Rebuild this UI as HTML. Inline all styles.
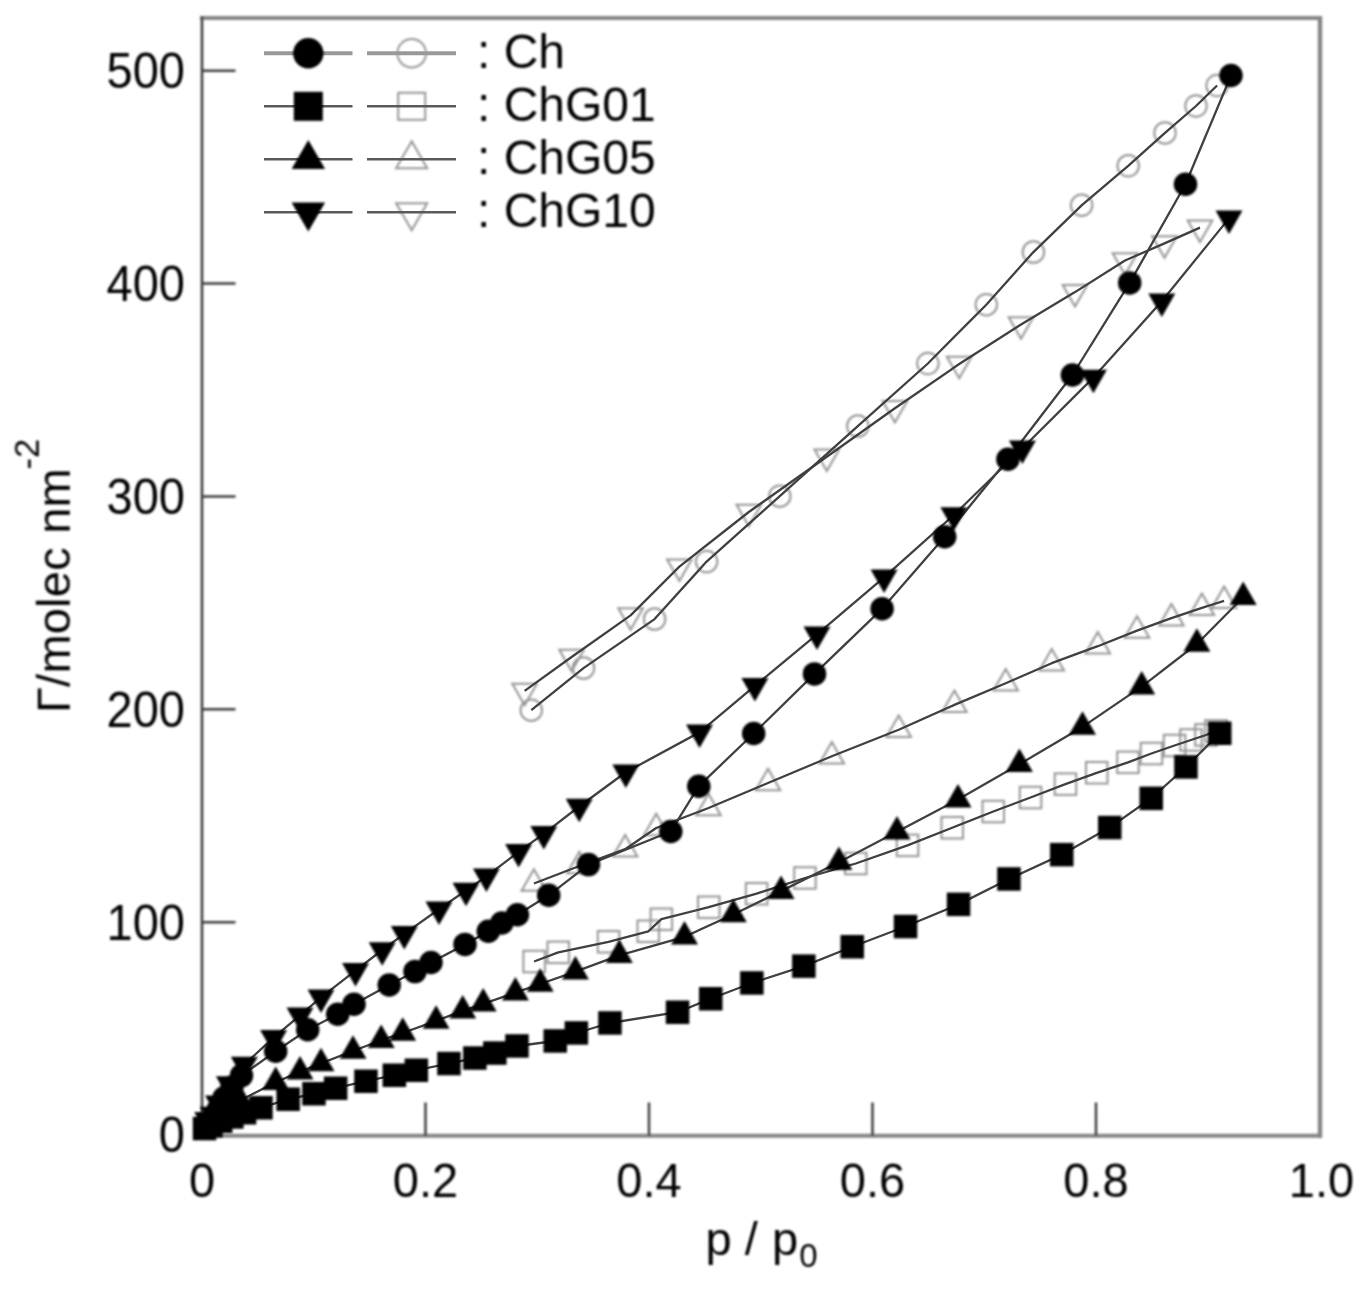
<!DOCTYPE html><html><head><meta charset="utf-8"><style>html,body{margin:0;padding:0;background:#fff;}body{width:1368px;height:1292px;overflow:hidden;}svg{display:block;}text{font-family:"Liberation Sans",sans-serif;fill:#000;}</style></head><body>
<svg width="1368" height="1292" viewBox="0 0 1368 1292">
<rect width="1368" height="1292" fill="#fff"/>
<defs><filter id="b" x="0" y="0" width="1368" height="1292" filterUnits="userSpaceOnUse"><feGaussianBlur stdDeviation="1.0"/></filter></defs>
<g filter="url(#b)">
<line x1="200" y1="18" x2="1322" y2="18" stroke="#858585" stroke-width="4.0"/>
<line x1="1320" y1="16" x2="1320" y2="1138" stroke="#858585" stroke-width="4.4"/>
<line x1="200" y1="1135.8" x2="1322" y2="1135.8" stroke="#858585" stroke-width="4.0"/>
<line x1="202" y1="16.5" x2="202" y2="1137" stroke="#3c3c3c" stroke-width="2.6"/>
<text transform="translate(185,1152.3) scale(1,1.045)" font-size="47" text-anchor="end">0</text>
<line x1="202.0" y1="922.2" x2="235.5" y2="922.2" stroke="#3c3c3c" stroke-width="2.5"/>
<text transform="translate(185,939.5) scale(1,1.045)" font-size="47" text-anchor="end">100</text>
<line x1="202.0" y1="709.3" x2="235.5" y2="709.3" stroke="#3c3c3c" stroke-width="2.5"/>
<text transform="translate(185,726.6) scale(1,1.045)" font-size="47" text-anchor="end">200</text>
<line x1="202.0" y1="496.5" x2="235.5" y2="496.5" stroke="#3c3c3c" stroke-width="2.5"/>
<text transform="translate(185,513.8) scale(1,1.045)" font-size="47" text-anchor="end">300</text>
<line x1="202.0" y1="283.6" x2="235.5" y2="283.6" stroke="#3c3c3c" stroke-width="2.5"/>
<text transform="translate(185,300.9) scale(1,1.045)" font-size="47" text-anchor="end">400</text>
<line x1="202.0" y1="70.8" x2="235.5" y2="70.8" stroke="#3c3c3c" stroke-width="2.5"/>
<text transform="translate(185,88.1) scale(1,1.045)" font-size="47" text-anchor="end">500</text>
<text transform="translate(202.0,1197) scale(1,1.03)" font-size="47" text-anchor="middle">0</text>
<line x1="425.5" y1="1135.8" x2="425.5" y2="1102.5" stroke="#3c3c3c" stroke-width="2.5"/>
<text transform="translate(425.5,1197) scale(1,1.03)" font-size="47" text-anchor="middle">0.2</text>
<line x1="649.0" y1="1135.8" x2="649.0" y2="1102.5" stroke="#3c3c3c" stroke-width="2.5"/>
<text transform="translate(649.0,1197) scale(1,1.03)" font-size="47" text-anchor="middle">0.4</text>
<line x1="872.5" y1="1135.8" x2="872.5" y2="1102.5" stroke="#3c3c3c" stroke-width="2.5"/>
<text transform="translate(872.5,1197) scale(1,1.03)" font-size="47" text-anchor="middle">0.6</text>
<line x1="1096.0" y1="1135.8" x2="1096.0" y2="1102.5" stroke="#3c3c3c" stroke-width="2.5"/>
<text transform="translate(1096.0,1197) scale(1,1.03)" font-size="47" text-anchor="middle">0.8</text>
<text transform="translate(1321.5,1197) scale(1,1.03)" font-size="47" text-anchor="middle">1.0</text>
<text x="705.5" y="1255" font-size="47">p /<tspan dx="1.2"> p</tspan><tspan font-size="33" dx="1" dy="11.5">0</tspan></text>
<text transform="translate(69.8,713) rotate(-90)" font-size="47" letter-spacing="0.22">&#915;/molec nm<tspan font-size="34.5" dx="-1.3" dy="-31.5" letter-spacing="0">-2</tspan></text>
</g>
<g filter="url(#b)">
<circle cx="531.3" cy="710.2" r="10.75" fill="none" stroke="#959595" stroke-width="2.0"/>
<circle cx="583.5" cy="668.1" r="10.75" fill="none" stroke="#959595" stroke-width="2.0"/>
<circle cx="654.6" cy="619.1" r="10.75" fill="none" stroke="#959595" stroke-width="2.0"/>
<circle cx="706.6" cy="561.6" r="10.75" fill="none" stroke="#959595" stroke-width="2.0"/>
<circle cx="779.8" cy="496.2" r="10.75" fill="none" stroke="#959595" stroke-width="2.0"/>
<circle cx="857.8" cy="426.1" r="10.75" fill="none" stroke="#959595" stroke-width="2.0"/>
<circle cx="927.9" cy="363.5" r="10.75" fill="none" stroke="#959595" stroke-width="2.0"/>
<circle cx="986.3" cy="304.7" r="10.75" fill="none" stroke="#959595" stroke-width="2.0"/>
<circle cx="1033.4" cy="252.1" r="10.75" fill="none" stroke="#959595" stroke-width="2.0"/>
<circle cx="1081.6" cy="205.3" r="10.75" fill="none" stroke="#959595" stroke-width="2.0"/>
<circle cx="1128.2" cy="165.8" r="10.75" fill="none" stroke="#959595" stroke-width="2.0"/>
<circle cx="1165.0" cy="132.9" r="10.75" fill="none" stroke="#959595" stroke-width="2.0"/>
<circle cx="1196.0" cy="106.0" r="10.75" fill="none" stroke="#959595" stroke-width="2.0"/>
<circle cx="1217.1" cy="85.5" r="10.75" fill="none" stroke="#959595" stroke-width="2.0"/>
<rect x="523.4" y="950.8" width="21.5" height="21.5" fill="none" stroke="#959595" stroke-width="2.0"/>
<rect x="547.5" y="941.6" width="21.5" height="21.5" fill="none" stroke="#959595" stroke-width="2.0"/>
<rect x="597.8" y="931.0" width="21.5" height="21.5" fill="none" stroke="#959595" stroke-width="2.0"/>
<rect x="637.5" y="920.5" width="21.5" height="21.5" fill="none" stroke="#959595" stroke-width="2.0"/>
<rect x="650.6" y="908.5" width="21.5" height="21.5" fill="none" stroke="#959595" stroke-width="2.0"/>
<rect x="698.0" y="896.5" width="21.5" height="21.5" fill="none" stroke="#959595" stroke-width="2.0"/>
<rect x="745.9" y="883.0" width="21.5" height="21.5" fill="none" stroke="#959595" stroke-width="2.0"/>
<rect x="794.2" y="867.2" width="21.5" height="21.5" fill="none" stroke="#959595" stroke-width="2.0"/>
<rect x="845.0" y="852.8" width="21.5" height="21.5" fill="none" stroke="#959595" stroke-width="2.0"/>
<rect x="896.8" y="834.6" width="21.5" height="21.5" fill="none" stroke="#959595" stroke-width="2.0"/>
<rect x="941.5" y="817.0" width="21.5" height="21.5" fill="none" stroke="#959595" stroke-width="2.0"/>
<rect x="982.5" y="800.8" width="21.5" height="21.5" fill="none" stroke="#959595" stroke-width="2.0"/>
<rect x="1019.8" y="786.8" width="21.5" height="21.5" fill="none" stroke="#959595" stroke-width="2.0"/>
<rect x="1054.7" y="773.4" width="21.5" height="21.5" fill="none" stroke="#959595" stroke-width="2.0"/>
<rect x="1086.0" y="762.0" width="21.5" height="21.5" fill="none" stroke="#959595" stroke-width="2.0"/>
<rect x="1117.2" y="751.6" width="21.5" height="21.5" fill="none" stroke="#959595" stroke-width="2.0"/>
<rect x="1140.7" y="742.8" width="21.5" height="21.5" fill="none" stroke="#959595" stroke-width="2.0"/>
<rect x="1163.8" y="734.8" width="21.5" height="21.5" fill="none" stroke="#959595" stroke-width="2.0"/>
<rect x="1180.2" y="729.2" width="21.5" height="21.5" fill="none" stroke="#959595" stroke-width="2.0"/>
<rect x="1195.2" y="724.2" width="21.5" height="21.5" fill="none" stroke="#959595" stroke-width="2.0"/>
<rect x="1205.2" y="720.2" width="21.5" height="21.5" fill="none" stroke="#959595" stroke-width="2.0"/>
<polygon points="533.9,869.2 546.2,890.7 521.6,890.7" fill="none" stroke="#959595" stroke-width="2.0"/>
<polygon points="579.4,851.7 591.7,873.2 567.1,873.2" fill="none" stroke="#959595" stroke-width="2.0"/>
<polygon points="625.1,834.9 637.4,856.4 612.8,856.4" fill="none" stroke="#959595" stroke-width="2.0"/>
<polygon points="656.2,813.7 668.5,835.2 643.9,835.2" fill="none" stroke="#959595" stroke-width="2.0"/>
<polygon points="708.5,793.7 720.8,815.2 696.2,815.2" fill="none" stroke="#959595" stroke-width="2.0"/>
<polygon points="768.0,768.7 780.3,790.2 755.7,790.2" fill="none" stroke="#959595" stroke-width="2.0"/>
<polygon points="831.8,741.9 844.1,763.4 819.5,763.4" fill="none" stroke="#959595" stroke-width="2.0"/>
<polygon points="898.7,715.4 911.0,736.9 886.4,736.9" fill="none" stroke="#959595" stroke-width="2.0"/>
<polygon points="954.4,690.6 966.7,712.1 942.1,712.1" fill="none" stroke="#959595" stroke-width="2.0"/>
<polygon points="1005.7,668.9 1018.0,690.4 993.4,690.4" fill="none" stroke="#959595" stroke-width="2.0"/>
<polygon points="1051.7,648.9 1064.0,670.4 1039.4,670.4" fill="none" stroke="#959595" stroke-width="2.0"/>
<polygon points="1097.8,631.9 1110.1,653.4 1085.5,653.4" fill="none" stroke="#959595" stroke-width="2.0"/>
<polygon points="1137.0,616.3 1149.3,637.8 1124.7,637.8" fill="none" stroke="#959595" stroke-width="2.0"/>
<polygon points="1171.4,603.9 1183.7,625.4 1159.1,625.4" fill="none" stroke="#959595" stroke-width="2.0"/>
<polygon points="1201.9,593.5 1214.2,615.0 1189.6,615.0" fill="none" stroke="#959595" stroke-width="2.0"/>
<polygon points="1224.1,586.6 1236.4,608.1 1211.8,608.1" fill="none" stroke="#959595" stroke-width="2.0"/>
<polygon points="524.6,705.2 536.9,683.7 512.3,683.7" fill="none" stroke="#959595" stroke-width="2.0"/>
<polygon points="571.6,671.3 583.9,649.8 559.3,649.8" fill="none" stroke="#959595" stroke-width="2.0"/>
<polygon points="630.6,629.7 642.9,608.2 618.3,608.2" fill="none" stroke="#959595" stroke-width="2.0"/>
<polygon points="679.4,580.9 691.7,559.4 667.1,559.4" fill="none" stroke="#959595" stroke-width="2.0"/>
<polygon points="748.8,526.3 761.1,504.8 736.5,504.8" fill="none" stroke="#959595" stroke-width="2.0"/>
<polygon points="826.8,471.1 839.1,449.6 814.5,449.6" fill="none" stroke="#959595" stroke-width="2.0"/>
<polygon points="894.9,422.6 907.2,401.1 882.6,401.1" fill="none" stroke="#959595" stroke-width="2.0"/>
<polygon points="959.2,378.3 971.5,356.8 946.9,356.8" fill="none" stroke="#959595" stroke-width="2.0"/>
<polygon points="1021.0,338.8 1033.3,317.3 1008.7,317.3" fill="none" stroke="#959595" stroke-width="2.0"/>
<polygon points="1075.0,306.4 1087.3,284.9 1062.7,284.9" fill="none" stroke="#959595" stroke-width="2.0"/>
<polygon points="1125.0,274.8 1137.3,253.3 1112.7,253.3" fill="none" stroke="#959595" stroke-width="2.0"/>
<polygon points="1164.5,257.7 1176.8,236.2 1152.2,236.2" fill="none" stroke="#959595" stroke-width="2.0"/>
<polygon points="1200.0,241.9 1212.3,220.4 1187.7,220.4" fill="none" stroke="#959595" stroke-width="2.0"/>
</g>
<polyline points="208.0,1127.0 213.0,1119.0 218.0,1110.0 224.0,1098.0 232.0,1087.0 241.5,1075.6 275.7,1051.3 307.7,1029.7 337.7,1014.3 354.0,1004.2 389.2,985.0 415.0,971.6 431.0,962.5 465.0,944.4 488.3,931.3 501.8,923.0 517.4,914.7 548.7,895.3 588.5,864.6 670.8,831.5 698.8,786.2 753.7,733.5 814.5,673.9 882.1,608.8 944.7,536.8 1007.9,459.2 1072.4,375.0 1129.7,282.9 1185.5,184.2 1231.0,75.5" fill="none" stroke="#404040" stroke-width="2.3" stroke-linejoin="round"/>
<polyline points="531.3,710.2 583.5,668.1 654.6,619.1 706.6,561.6 779.8,496.2 857.8,426.1 927.9,363.5 986.3,304.7 1033.4,252.1 1081.6,205.3 1128.2,165.8 1165.0,132.9 1196.0,106.0 1217.1,85.5" fill="none" stroke="#404040" stroke-width="2.3" stroke-linejoin="round"/>
<polyline points="204.5,1128.5 211.0,1125.5 220.7,1121.2 231.8,1117.0 244.6,1112.7 261.0,1107.7 288.2,1099.3 314.0,1093.7 335.6,1088.2 366.0,1081.2 394.3,1075.2 416.4,1070.2 449.0,1063.5 474.8,1058.1 494.9,1053.1 517.0,1046.0 555.3,1041.0 576.4,1033.0 610.0,1023.0 677.5,1012.2 710.7,998.7 751.9,983.0 803.9,966.1 852.3,946.8 905.5,926.5 958.5,904.4 1009.0,879.0 1061.8,854.6 1109.7,827.5 1151.2,798.4 1185.9,767.0 1219.8,733.3" fill="none" stroke="#404040" stroke-width="2.3" stroke-linejoin="round"/>
<polyline points="534.1,961.5 558.3,952.4 608.5,941.8 648.3,931.3 661.4,919.2 708.7,907.2 756.6,893.7 805.0,878.0 855.8,863.5 907.5,845.4 952.2,827.7 993.3,811.5 1030.5,797.5 1065.4,784.1 1096.7,772.8 1128.0,762.4 1151.4,753.5 1174.5,745.5 1191.0,740.0 1206.0,735.0 1216.0,731.0" fill="none" stroke="#404040" stroke-width="2.3" stroke-linejoin="round"/>
<polyline points="206.0,1126.0 210.0,1121.0 217.0,1115.0 228.0,1107.5 240.0,1100.5 275.7,1082.2 300.0,1071.7 321.0,1063.4 353.0,1051.0 381.2,1040.2 402.7,1033.0 436.1,1020.9 462.7,1010.8 483.2,1003.8 515.4,992.7 540.2,984.0 575.4,971.6 619.3,955.3 684.5,936.8 733.3,914.5 781.1,891.1 838.9,862.3 897.0,831.8 958.0,799.6 1019.4,764.3 1082.5,726.9 1141.7,686.6 1196.9,644.0 1243.2,597.2" fill="none" stroke="#404040" stroke-width="2.3" stroke-linejoin="round"/>
<polyline points="533.9,883.5 579.4,866.0 625.1,849.2 656.2,828.0 708.5,808.0 768.0,783.0 831.8,756.2 898.7,729.7 954.4,704.9 1005.7,683.2 1051.7,663.2 1097.8,646.2 1137.0,630.6 1171.4,618.2 1201.9,607.8 1224.1,600.9" fill="none" stroke="#404040" stroke-width="2.3" stroke-linejoin="round"/>
<polyline points="207.7,1119.8 213.5,1114.5 218.5,1103.3 229.4,1084.0 244.3,1064.5 273.6,1037.7 300.0,1015.4 321.0,997.3 355.5,970.7 382.2,950.0 404.3,933.9 439.0,909.2 466.0,890.5 486.4,876.4 518.6,851.9 543.8,833.8 579.2,806.5 625.8,772.2 699.5,732.3 754.9,685.9 817.0,634.3 884.1,577.3 953.9,515.0 1022.4,448.2 1093.4,377.6 1161.8,301.3 1229.0,218.4" fill="none" stroke="#404040" stroke-width="2.3" stroke-linejoin="round"/>
<polyline points="524.6,690.9 571.6,657.0 630.6,615.4 679.4,566.6 748.8,512.0 826.8,456.8 894.9,408.3 959.2,364.0 1021.0,324.5 1075.0,292.1 1125.0,260.5 1164.5,243.4 1200.0,227.6" fill="none" stroke="#404040" stroke-width="2.3" stroke-linejoin="round"/>
<g filter="url(#b)">
<circle cx="208.0" cy="1127.0" r="11.75" fill="#000"/>
<circle cx="213.0" cy="1119.0" r="11.75" fill="#000"/>
<circle cx="218.0" cy="1110.0" r="11.75" fill="#000"/>
<circle cx="224.0" cy="1098.0" r="11.75" fill="#000"/>
<circle cx="232.0" cy="1087.0" r="11.75" fill="#000"/>
<circle cx="241.5" cy="1075.6" r="11.75" fill="#000"/>
<circle cx="275.7" cy="1051.3" r="11.75" fill="#000"/>
<circle cx="307.7" cy="1029.7" r="11.75" fill="#000"/>
<circle cx="337.7" cy="1014.3" r="11.75" fill="#000"/>
<circle cx="354.0" cy="1004.2" r="11.75" fill="#000"/>
<circle cx="389.2" cy="985.0" r="11.75" fill="#000"/>
<circle cx="415.0" cy="971.6" r="11.75" fill="#000"/>
<circle cx="431.0" cy="962.5" r="11.75" fill="#000"/>
<circle cx="465.0" cy="944.4" r="11.75" fill="#000"/>
<circle cx="488.3" cy="931.3" r="11.75" fill="#000"/>
<circle cx="501.8" cy="923.0" r="11.75" fill="#000"/>
<circle cx="517.4" cy="914.7" r="11.75" fill="#000"/>
<circle cx="548.7" cy="895.3" r="11.75" fill="#000"/>
<circle cx="588.5" cy="864.6" r="11.75" fill="#000"/>
<circle cx="670.8" cy="831.5" r="11.75" fill="#000"/>
<circle cx="698.8" cy="786.2" r="11.75" fill="#000"/>
<circle cx="753.7" cy="733.5" r="11.75" fill="#000"/>
<circle cx="814.5" cy="673.9" r="11.75" fill="#000"/>
<circle cx="882.1" cy="608.8" r="11.75" fill="#000"/>
<circle cx="944.7" cy="536.8" r="11.75" fill="#000"/>
<circle cx="1007.9" cy="459.2" r="11.75" fill="#000"/>
<circle cx="1072.4" cy="375.0" r="11.75" fill="#000"/>
<circle cx="1129.7" cy="282.9" r="11.75" fill="#000"/>
<circle cx="1185.5" cy="184.2" r="11.75" fill="#000"/>
<circle cx="1231.0" cy="75.5" r="11.75" fill="#000"/>
<rect x="192.8" y="1116.8" width="23.5" height="23.5" fill="#000"/>
<rect x="199.2" y="1113.8" width="23.5" height="23.5" fill="#000"/>
<rect x="208.9" y="1109.5" width="23.5" height="23.5" fill="#000"/>
<rect x="220.1" y="1105.2" width="23.5" height="23.5" fill="#000"/>
<rect x="232.8" y="1101.0" width="23.5" height="23.5" fill="#000"/>
<rect x="249.2" y="1096.0" width="23.5" height="23.5" fill="#000"/>
<rect x="276.4" y="1087.5" width="23.5" height="23.5" fill="#000"/>
<rect x="302.2" y="1082.0" width="23.5" height="23.5" fill="#000"/>
<rect x="323.9" y="1076.5" width="23.5" height="23.5" fill="#000"/>
<rect x="354.2" y="1069.5" width="23.5" height="23.5" fill="#000"/>
<rect x="382.6" y="1063.5" width="23.5" height="23.5" fill="#000"/>
<rect x="404.6" y="1058.5" width="23.5" height="23.5" fill="#000"/>
<rect x="437.2" y="1051.8" width="23.5" height="23.5" fill="#000"/>
<rect x="463.1" y="1046.3" width="23.5" height="23.5" fill="#000"/>
<rect x="483.1" y="1041.3" width="23.5" height="23.5" fill="#000"/>
<rect x="505.2" y="1034.2" width="23.5" height="23.5" fill="#000"/>
<rect x="543.5" y="1029.2" width="23.5" height="23.5" fill="#000"/>
<rect x="564.6" y="1021.2" width="23.5" height="23.5" fill="#000"/>
<rect x="598.2" y="1011.2" width="23.5" height="23.5" fill="#000"/>
<rect x="665.8" y="1000.5" width="23.5" height="23.5" fill="#000"/>
<rect x="699.0" y="987.0" width="23.5" height="23.5" fill="#000"/>
<rect x="740.1" y="971.2" width="23.5" height="23.5" fill="#000"/>
<rect x="792.1" y="954.4" width="23.5" height="23.5" fill="#000"/>
<rect x="840.5" y="935.0" width="23.5" height="23.5" fill="#000"/>
<rect x="893.8" y="914.8" width="23.5" height="23.5" fill="#000"/>
<rect x="946.8" y="892.6" width="23.5" height="23.5" fill="#000"/>
<rect x="997.2" y="867.2" width="23.5" height="23.5" fill="#000"/>
<rect x="1050.0" y="842.9" width="23.5" height="23.5" fill="#000"/>
<rect x="1098.0" y="815.8" width="23.5" height="23.5" fill="#000"/>
<rect x="1139.5" y="786.6" width="23.5" height="23.5" fill="#000"/>
<rect x="1174.2" y="755.2" width="23.5" height="23.5" fill="#000"/>
<rect x="1208.0" y="721.5" width="23.5" height="23.5" fill="#000"/>
<polygon points="206.0,1110.3 219.5,1133.8 192.5,1133.8" fill="#000"/>
<polygon points="210.0,1105.3 223.5,1128.8 196.5,1128.8" fill="#000"/>
<polygon points="217.0,1099.3 230.5,1122.8 203.5,1122.8" fill="#000"/>
<polygon points="228.0,1091.8 241.5,1115.3 214.5,1115.3" fill="#000"/>
<polygon points="240.0,1084.8 253.5,1108.3 226.5,1108.3" fill="#000"/>
<polygon points="275.7,1066.5 289.2,1090.0 262.2,1090.0" fill="#000"/>
<polygon points="300.0,1056.0 313.5,1079.5 286.5,1079.5" fill="#000"/>
<polygon points="321.0,1047.7 334.5,1071.2 307.5,1071.2" fill="#000"/>
<polygon points="353.0,1035.3 366.5,1058.8 339.5,1058.8" fill="#000"/>
<polygon points="381.2,1024.5 394.7,1048.0 367.7,1048.0" fill="#000"/>
<polygon points="402.7,1017.3 416.2,1040.8 389.2,1040.8" fill="#000"/>
<polygon points="436.1,1005.2 449.6,1028.7 422.6,1028.7" fill="#000"/>
<polygon points="462.7,995.1 476.2,1018.6 449.2,1018.6" fill="#000"/>
<polygon points="483.2,988.1 496.7,1011.6 469.7,1011.6" fill="#000"/>
<polygon points="515.4,977.0 528.9,1000.5 501.9,1000.5" fill="#000"/>
<polygon points="540.2,968.3 553.7,991.8 526.7,991.8" fill="#000"/>
<polygon points="575.4,955.9 588.9,979.4 561.9,979.4" fill="#000"/>
<polygon points="619.3,939.6 632.8,963.1 605.8,963.1" fill="#000"/>
<polygon points="684.5,921.1 698.0,944.6 671.0,944.6" fill="#000"/>
<polygon points="733.3,898.8 746.8,922.3 719.8,922.3" fill="#000"/>
<polygon points="781.1,875.4 794.6,898.9 767.6,898.9" fill="#000"/>
<polygon points="838.9,846.6 852.4,870.1 825.4,870.1" fill="#000"/>
<polygon points="897.0,816.1 910.5,839.6 883.5,839.6" fill="#000"/>
<polygon points="958.0,783.9 971.5,807.4 944.5,807.4" fill="#000"/>
<polygon points="1019.4,748.6 1032.9,772.1 1005.9,772.1" fill="#000"/>
<polygon points="1082.5,711.2 1096.0,734.7 1069.0,734.7" fill="#000"/>
<polygon points="1141.7,670.9 1155.2,694.4 1128.2,694.4" fill="#000"/>
<polygon points="1196.9,628.3 1210.4,651.8 1183.4,651.8" fill="#000"/>
<polygon points="1243.2,581.5 1256.7,605.0 1229.7,605.0" fill="#000"/>
<polygon points="207.7,1135.5 221.2,1112.0 194.2,1112.0" fill="#000"/>
<polygon points="213.5,1130.2 227.0,1106.7 200.0,1106.7" fill="#000"/>
<polygon points="218.5,1119.0 232.0,1095.5 205.0,1095.5" fill="#000"/>
<polygon points="229.4,1099.7 242.9,1076.2 215.9,1076.2" fill="#000"/>
<polygon points="244.3,1080.2 257.8,1056.7 230.8,1056.7" fill="#000"/>
<polygon points="273.6,1053.4 287.1,1029.9 260.1,1029.9" fill="#000"/>
<polygon points="300.0,1031.1 313.5,1007.6 286.5,1007.6" fill="#000"/>
<polygon points="321.0,1013.0 334.5,989.5 307.5,989.5" fill="#000"/>
<polygon points="355.5,986.4 369.0,962.9 342.0,962.9" fill="#000"/>
<polygon points="382.2,965.7 395.7,942.2 368.7,942.2" fill="#000"/>
<polygon points="404.3,949.6 417.8,926.1 390.8,926.1" fill="#000"/>
<polygon points="439.0,924.9 452.5,901.4 425.5,901.4" fill="#000"/>
<polygon points="466.0,906.2 479.5,882.7 452.5,882.7" fill="#000"/>
<polygon points="486.4,892.1 499.9,868.6 472.9,868.6" fill="#000"/>
<polygon points="518.6,867.6 532.1,844.1 505.1,844.1" fill="#000"/>
<polygon points="543.8,849.5 557.3,826.0 530.3,826.0" fill="#000"/>
<polygon points="579.2,822.2 592.7,798.7 565.7,798.7" fill="#000"/>
<polygon points="625.8,787.9 639.3,764.4 612.3,764.4" fill="#000"/>
<polygon points="699.5,748.0 713.0,724.5 686.0,724.5" fill="#000"/>
<polygon points="754.9,701.6 768.4,678.1 741.4,678.1" fill="#000"/>
<polygon points="817.0,650.0 830.5,626.5 803.5,626.5" fill="#000"/>
<polygon points="884.1,593.0 897.6,569.5 870.6,569.5" fill="#000"/>
<polygon points="953.9,530.7 967.4,507.2 940.4,507.2" fill="#000"/>
<polygon points="1022.4,463.9 1035.9,440.4 1008.9,440.4" fill="#000"/>
<polygon points="1093.4,393.3 1106.9,369.8 1079.9,369.8" fill="#000"/>
<polygon points="1161.8,317.0 1175.3,293.5 1148.3,293.5" fill="#000"/>
<polygon points="1229.0,234.1 1242.5,210.6 1215.5,210.6" fill="#000"/>
</g>
<g filter="url(#b)">
<circle cx="411.7" cy="53.2" r="14.3" fill="none" stroke="#959595" stroke-width="2.0"/>
<rect x="398.2" y="92.8" width="27" height="27" fill="none" stroke="#959595" stroke-width="2.0"/>
<polygon points="411.7,141.2 427.2,168.2 396.1,168.2" fill="none" stroke="#959595" stroke-width="2.0"/>
<polygon points="411.7,230.3 427.2,203.3 396.1,203.3" fill="none" stroke="#959595" stroke-width="2.0"/>
</g>
<line x1="264" y1="53.2" x2="352.5" y2="53.2" stroke="#999" stroke-width="4.0"/>
<line x1="367" y1="53.2" x2="456" y2="53.2" stroke="#999" stroke-width="4.0"/>
<line x1="264" y1="106.3" x2="352.5" y2="106.3" stroke="#5a5a5a" stroke-width="2.5"/>
<line x1="367" y1="106.3" x2="456" y2="106.3" stroke="#5a5a5a" stroke-width="2.5"/>
<line x1="264" y1="159.2" x2="352.5" y2="159.2" stroke="#5a5a5a" stroke-width="2.5"/>
<line x1="367" y1="159.2" x2="456" y2="159.2" stroke="#5a5a5a" stroke-width="2.5"/>
<line x1="264" y1="212.3" x2="352.5" y2="212.3" stroke="#5a5a5a" stroke-width="2.5"/>
<line x1="367" y1="212.3" x2="456" y2="212.3" stroke="#5a5a5a" stroke-width="2.5"/>
<g filter="url(#b)">
<circle cx="308.3" cy="53.2" r="15.2" fill="#000"/>
<text x="477" y="68.2" font-size="48">: Ch</text>
<rect x="293.8" y="91.8" width="29" height="29" fill="#000"/>
<text x="477" y="121.3" font-size="48">: ChG01</text>
<polygon points="308.3,139.9 325.1,168.9 291.6,168.9" fill="#000"/>
<text x="477" y="174.2" font-size="48">: ChG05</text>
<polygon points="308.3,231.6 325.1,202.6 291.6,202.6" fill="#000"/>
<text x="477" y="227.3" font-size="48">: ChG10</text>
</g>
</svg></body></html>
